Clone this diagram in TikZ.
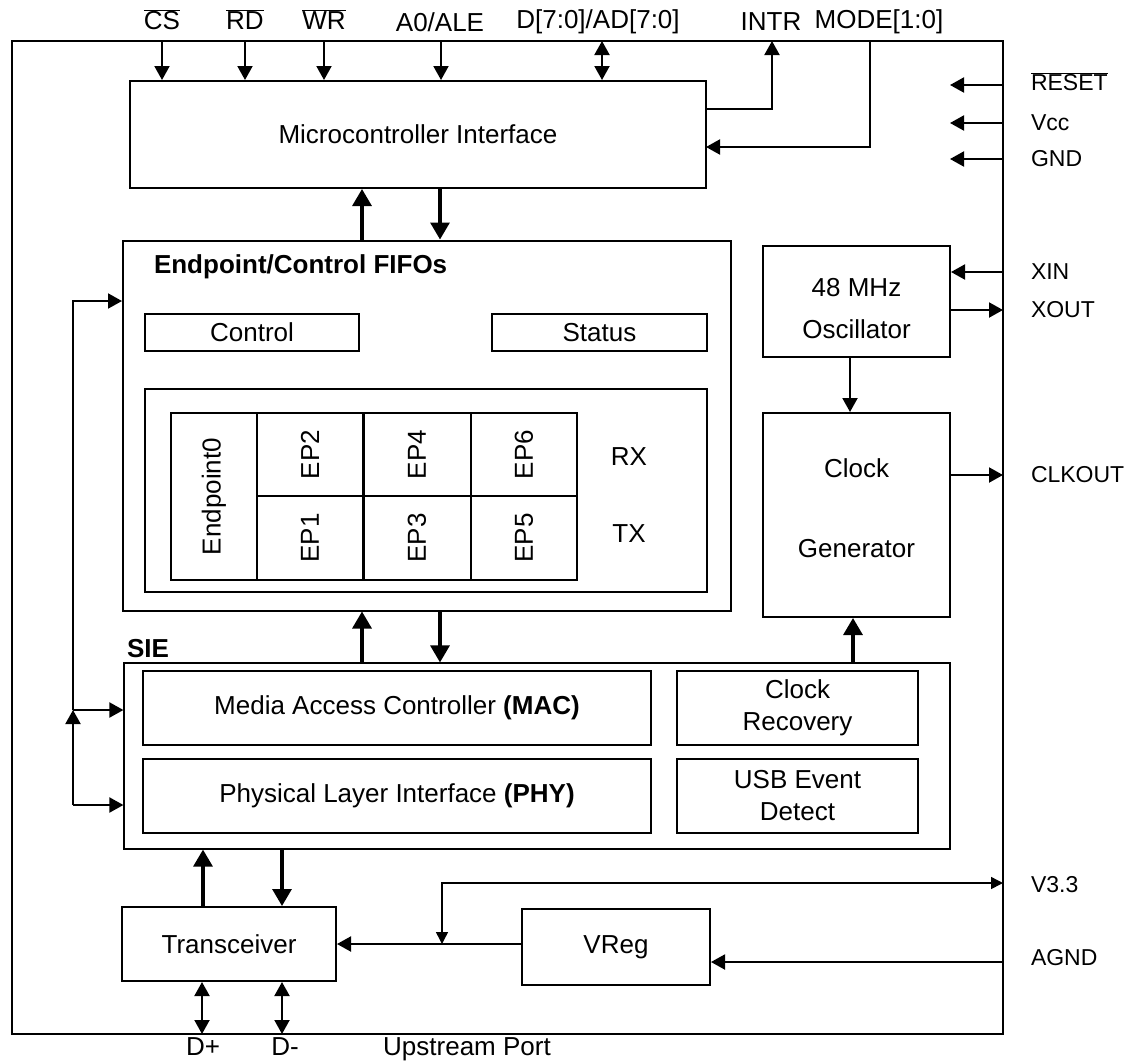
\documentclass[tikz,border=0pt]{standalone}
\usepackage{fontspec}
\setmainfont{Liberation Sans}
\usepackage{tikz}
\usetikzlibrary{arrows,arrows.meta,positioning}

\begin{document}
\begin{tikzpicture}[x=1pt, y=-1pt, >={Triangle[length=14pt,width=15pt]}, line width=2pt]
\useasboundingbox (0,0) rectangle (1130,1061);
\tikzstyle{every node} = [inner sep=0pt, font=\fontsize{26}{32}\selectfont]
\tikzstyle{blk} = [draw, line width=2pt, align=center]
\tikzstyle{thinblk} = [draw, line width=1.2pt, align=center]
\tikzstyle{pin} = [anchor=west, font=\fontsize{23}{28}\selectfont]
\tikzstyle{bus} = [line width=3.2pt, >={Triangle[length=17pt,width=19pt]}]
% chip outline
\node[blk] (chip) at (507.5,537.5) [minimum width=991, minimum height=993] {};
% blocks
\node[blk, minimum width=576, minimum height=107] (mcu) at (418,134.5) {Microcontroller Interface};
\node[blk, minimum width=608, minimum height=370] (fifo) at (427,425.5) {};
\node[anchor=west, font=\fontsize{26}{32}\selectfont\bfseries] (fifot) at (153,267) {Endpoint/Control FIFOs};
\node[thinblk, minimum width=214, minimum height=37] (ctrl) at (252,332.5) {Control};
\node[thinblk, minimum width=215, minimum height=37] (stat) at (599.5,332.5) {Status};
\node[thinblk, minimum width=562, minimum height=203] (epbox) at (426,490.5) {};
\node[blk, rotate=90, minimum width=167, minimum height=86] (ep0) at (214,496.5) {Endpoint0};
\foreach \cx/\cw/\up/\dn in {310/106/2/1, 417/107/4/3, 524/106/6/5} {
  \node[blk, rotate=90, minimum width=83, minimum height=\cw] (ep\up) at (\cx,454.5) {EP\up};
  \node[blk, rotate=90, minimum width=84, minimum height=\cw] (ep\dn) at (\cx,538) {EP\dn};
}
\node (rx) at (629,457) {RX};
\node (tx) at (629,534) {TX};
\node[blk, minimum width=187, minimum height=111] (osc) at (856.5,301.5) {};
\node[align=center] (osct) at (856.5,309) {48 MHz\\[10pt]Oscillator};
\node[blk, minimum width=187, minimum height=204] (clkgen) at (856.5,515) {};
\node[align=center] (clkgent) at (856.5,508) {Clock\\[48pt]Generator};
\node[anchor=west, font=\fontsize{26}{32}\selectfont\bfseries] (siet) at (126,649) {SIE};
\node[thinblk, minimum width=826, minimum height=186] (sie) at (537,756) {};
\node[blk, minimum width=508, minimum height=74] (mac) at (397,708) {Media Access Controller \textbf{(MAC)}};
\node[blk, minimum width=508, minimum height=74] (phy) at (397,796) {Physical Layer Interface \textbf{(PHY)}};
\node[blk, minimum width=241, minimum height=74] (clkrec) at (797.5,708) {Clock\\Recovery};
\node[blk, minimum width=241, minimum height=74] (usbev) at (797.5,796) {USB Event\\Detect};
\node[blk, minimum width=214, minimum height=74] (xcvr) at (229,944) {Transceiver};
\node[blk, minimum width=188, minimum height=76] (vreg) at (616,947) {VReg};
% pins on top
\foreach \n/\x in {cs/162, rd/245, wr/324, ale/441, dat/602, intr/772, mode/870}
  \coordinate (p\n) at (\x,41);
\node (lcs) at (162,20) {$\overline{\mbox{CS}}$};
\node (lrd) at (245,20) {$\overline{\mbox{RD}}$};
\node (lwr) at (324,20) {$\overline{\mbox{WR}}$};
\node (lale) at (440,22) {A0/ALE};
\node (ldat) at (598,22) {D[7:0]/AD[7:0]};
\node (lintr) at (771,22) {INTR};
\node (lmode) at (879,22) {MODE[1:0]};
\draw[->] (pcs) -- (pcs |- mcu.north);
\draw[->] (prd) -- (prd |- mcu.north);
\draw[->] (pwr) -- (pwr |- mcu.north);
\draw[->] (pale) -- (pale |- mcu.north);
\draw[<->] (pdat) -- (pdat |- mcu.north);
\coordinate (mi) at (706,109);
\coordinate (mm) at (706,147);
\draw[->] (mi) -| (pintr);
\draw[->] (pmode) |- (mm);
% pins on the right
\foreach \n/\y in {rst/85, vcc/123, gnd/159, xin/272, xout/310, clk/475, v33/883, agnd/962}
  \coordinate (p\n) at (1003,\y);
\node[pin] (lrst) at (1030,82) {$\overline{\mbox{RESET}}$};
\node[pin] (lvcc) at (1030,123) {Vcc};
\node[pin] (lgnd) at (1030,159) {GND};
\node[pin] (lxin) at (1030,272) {XIN};
\node[pin] (lxout) at (1030,310) {XOUT};
\node[pin] (lclk) at (1030,475) {CLKOUT};
\node[pin] (lv33) at (1030,885) {V3.3};
\node[pin] (lagnd) at (1030,958) {AGND};
\draw[->] (prst) -- +(-53,0) coordinate (qrst);
\draw[->] (pvcc) -- +(-53,0) coordinate (qvcc);
\draw[->] (pgnd) -- +(-53,0) coordinate (qgnd);
\draw[->] (pxin) -- (pxin -| osc.east);
\draw[->] (pxout -| osc.east) -- (pxout);
\draw[->] (pclk -| clkgen.east) -- (pclk);
\draw[->] (osc.south -| 850,0) -- (clkgen.north -| 850,0);
% data paths
\draw[->, bus] (fifo.north -| 362,0) -- (mcu.south -| 362,0);
\draw[->, bus] (mcu.south -| 440,0) -- (fifo.north -| 440,0);
\draw[->, bus] (sie.north -| 362,0) -- (fifo.south -| 362,0);
\draw[->, bus] (fifo.south -| 440,0) -- (sie.north -| 440,0);
\draw[->, bus] (sie.north -| 853,0) -- (clkgen.south -| 853,0);
\draw[->, bus] (xcvr.north -| 203,0) -- (sie.south -| 203,0);
\draw[->, bus] (sie.south -| 282,0) -- (xcvr.north -| 282,0);
% control bus on the left
\coordinate (bt) at (73,301);
\coordinate (bm) at (73,710);
\coordinate (bb) at (73,805);
\draw[->] (bm) -- (bt) -- (bt -| fifo.west);
\draw[->] (bb) -- (bm);
\draw[->] (bm) -- (bm -| sie.west);
\draw[->] (bb) -- (bb -| sie.west);
% regulator
\coordinate (vj) at (442,944);
\draw[->] (vreg.west |- vj) -- (xcvr.east |- vj);
\draw[<->, line width=1.5pt, >={Triangle[length=12pt,width=12pt]}] (vj) |- (pv33);
\draw[->] (pagnd) -- (vreg.east |- pagnd);
% upstream port
\coordinate (pdp) at (202,1034);
\coordinate (pdm) at (282,1034);
\draw[<->] (xcvr.south -| pdp) -- (pdp);
\draw[<->] (xcvr.south -| pdm) -- (pdm);
\node[anchor=base] (ldp) at (203,1055) {D+};
\node[anchor=base] (ldm) at (285,1055) {D-};
\node[anchor=base] (lup) at (467,1055) {Upstream Port};
\end{tikzpicture}
\end{document}
